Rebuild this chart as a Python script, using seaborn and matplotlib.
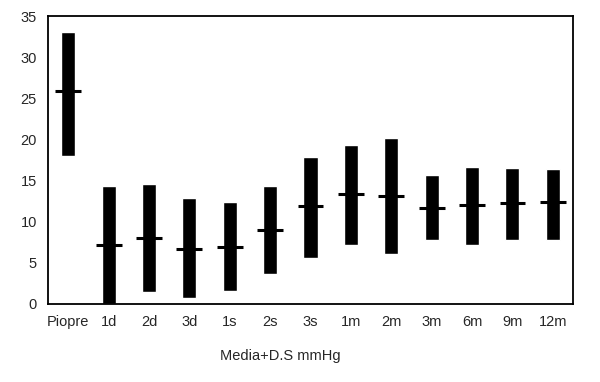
import numpy as np
import pandas as pd
import matplotlib
matplotlib.use("Agg")
import matplotlib.pyplot as plt
import seaborn as sns

# Time points and blood pressure values (mean +/- SD, mmHg)
periods = ["Piopre", "1d", "2d", "3d", "1s", "2s", "3s",
           "1m", "2m", "3m", "6m", "9m", "12m"]
upper = [33.0, 14.3, 14.6, 12.9, 12.4, 14.3, 17.8, 19.3, 20.1, 15.6, 16.6, 16.5, 16.4]
lower = [18.0, 0.0, 1.4, 0.7, 1.5, 3.6, 5.5, 7.2, 6.0, 7.7, 7.2, 7.7, 7.7]
means = [25.9, 7.1, 8.0, 6.6, 6.9, 9.0, 11.9, 13.4, 13.1, 11.6, 12.0, 12.2, 12.4]

sns.set_style("white")
plt.rcParams["font.family"] = ["Liberation Sans", "DejaVu Sans"]

df = pd.DataFrame({
    "period": periods,
    "span": np.array(upper) - np.array(lower),
    "low": lower,
    "mean": means,
})

fig = plt.figure(figsize=(6, 3.82), dpi=100)
ax = fig.add_axes([0.08, 0.205, 0.875, 0.753])

sns.barplot(data=df, x="period", y="span", bottom=df["low"].to_numpy(),
            color="black", width=0.35, ax=ax, saturation=1)

# mean markers
xs = np.arange(len(periods))
ax.hlines(df["mean"], xs - 0.32, xs + 0.32, color="black", linewidth=2.2)

ax.set_ylim(0, 35)
ax.set_xlim(-0.5, len(periods) - 0.5)
ax.set_yticks(range(0, 36, 5))
ax.set_xlabel("")
ax.set_ylabel("")
ax.tick_params(axis="both", length=0, labelsize=10.5, pad=8)
for s in ax.spines.values():
    s.set_visible(True)
    s.set_color("black")
    s.set_linewidth(1.3)

fig.text(0.468, 0.068, "Media+D.S mmHg", ha="center", va="center", fontsize=10.5)

fig.savefig("out.png", dpi=100)
